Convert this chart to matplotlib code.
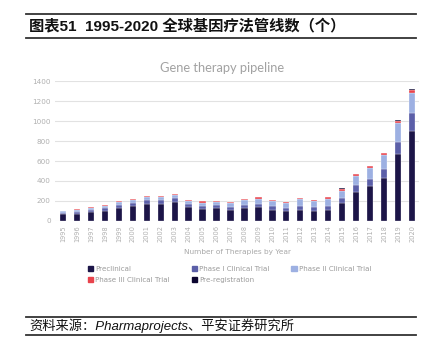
import numpy as np
import matplotlib.pyplot as plt
from matplotlib.lines import Line2D
from matplotlib.patches import Patch

years = [str(y) for y in range(1995, 2021)]
preclinical = [67, 67, 90, 100, 130, 150, 170, 170, 193, 140, 123, 127, 113,
               133, 143, 113, 100, 113, 100, 110, 180, 293, 353, 430, 673, 905]
phase1 = [16, 26, 23, 30, 30, 33, 40, 37, 34, 27, 27, 33, 30,
          30, 30, 40, 33, 40, 37, 37, 53, 67, 70, 90, 120, 180]
phase2 = [17, 20, 17, 23, 33, 30, 30, 30, 33, 33, 33, 30, 34,
          47, 50, 47, 50, 64, 66, 73, 70, 87, 104, 137, 190, 200]
phase3 = [3, 5, 8, 6, 6, 6, 6, 9, 9, 6, 15, 9, 9,
          12, 15, 12, 12, 12, 12, 15, 20, 20, 22, 20, 18, 28]
prereg = [1, 1, 1, 1, 1, 1, 1, 1, 1, 1, 1, 1, 1,
          1, 2, 1, 2, 2, 2, 2, 3, 3, 4, 4, 5, 8]

series = [
    ("Preclinical", preclinical, "#1c1548"),
    ("Phase I Clinical Trial", phase1, "#5b5fa8"),
    ("Phase II Clinical Trial", phase2, "#9db0e2"),
    ("Phase III Clinical Trial", phase3, "#e8434c"),
    ("Pre-registration", prereg, "#0c0530"),
]

W, H = 436, 353
fig = plt.figure(figsize=(W / 100, H / 100), dpi=100)
ax = fig.add_axes([55 / W, 1 - 221 / H, (419 - 55) / W, 140 / H])

x = np.arange(len(years))
bottom = np.zeros(len(years))
for name, vals, col in series:
    ax.bar(x, vals, 0.45, bottom=bottom, color=col, edgecolor="white",
           linewidth=0.2, label=name, zorder=3)
    bottom += np.array(vals)

ax.set_xlim(-0.57, 25.5)
ax.set_ylim(0, 1400)
ax.set_yticks(range(0, 1401, 200))
ax.grid(axis="y", color="#e2e2e2", linewidth=0.8, zorder=0)
for s in ax.spines.values():
    s.set_visible(False)
ax.set_xticks(x)
ax.set_xticklabels(years, rotation=90, fontsize=4.8, color="#b0b0b0")
ax.tick_params(axis="both", length=0, labelsize=5.2, labelcolor="#b0b0b0", pad=3)
ax.tick_params(axis="x", labelsize=4.8, pad=3)

ax.set_xlabel("Number of Therapies by Year", fontsize=5.3, color="#a8a8a8", labelpad=5)
fig.text(222 / W, 1 - 68 / H, "Gene therapy pipeline", fontsize=9.3, color="#a2a2a2",
         family="Lato", ha="center", va="center")

# legend, row-wise order
handles = [Patch(color=c) for _, _, c in series]
labels = [n for n, _, _ in series]
order = [0, 3, 1, 4, 2]
fig.legend([handles[i] for i in order], [labels[i] for i in order],
           ncol=3, loc="upper left", bbox_to_anchor=(84 / W, 1 - 262 / H),
           frameon=False, fontsize=5.1, labelcolor="#9a9a9a",
           handlelength=0.75, handleheight=0.75, handletextpad=0.3,
           columnspacing=3.1, labelspacing=0.75, borderpad=0)

cjk = ["Liberation Sans", "Noto Sans CJK SC"]
for yy in (14, 38, 317, 335):
    fig.add_artist(Line2D([26 / W, 416 / W], [1 - yy / H] * 2, color="#333333", linewidth=1.3))
fig.text(29 / W, 1 - 26 / H, "图表51  1995-2020 全球基因疗法管线数（个）", family=cjk,
         fontsize=11, weight="bold", color="#111111", va="center")
fig.text(29 / W, 1 - 326 / H, "资料来源：Pharmaprojects、平安证券研究所", family=cjk,
         fontsize=9.5, style="italic", color="#111111", va="center")

fig.savefig("out.png", dpi=100)
